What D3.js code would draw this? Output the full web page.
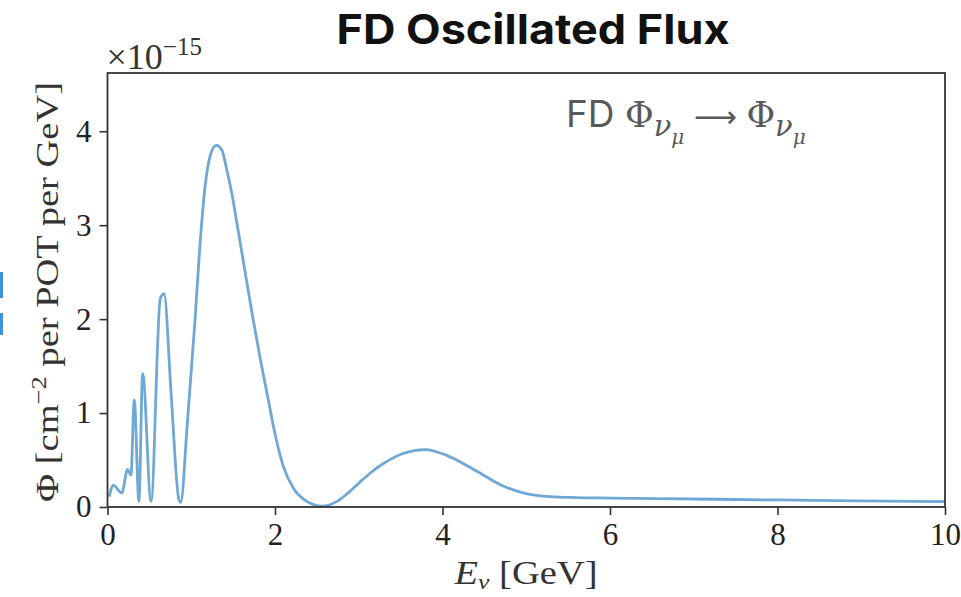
<!DOCTYPE html>
<html>
<head>
<meta charset="utf-8">
<script src="https://cdn.jsdelivr.net/npm/d3@7"></script>
<style>
  html, body { margin: 0; padding: 0; background: #fff; }
  svg { display: block; }
</style>
</head>
<body>
<svg id="chart" width="961" height="597"></svg>
<script>
// Far-detector oscillated numu flux (units of 1e-15 cm^-2 per POT per GeV)
const energy = [0.02, 0.07, 0.17, 0.24, 0.28, 0.32, 0.375, 0.42, 0.52, 0.63, 0.675, 0.76, 0.85, 0.875,
  0.95, 1.045, 1.097, 1.165, 1.233, 1.30, 1.365, 1.424, 1.484, 1.54, 1.64, 1.74, 1.83, 1.92, 2.0, 2.1,
  2.22, 2.38, 2.56, 2.74, 2.88, 3.02, 3.15, 3.29, 3.53, 3.79, 4.05, 4.41, 4.73, 5.01, 5.29, 5.6, 6.0, 7.0,
  8.0, 9.0, 10.0];
const flux = [0.11, 0.23, 0.15, 0.40, 0.34, 1.14, 0.06, 1.42, 0.06, 2.22, 2.27, 1.20, 0.09, 0.05,
  0.85, 1.99, 2.70, 3.41, 3.76, 3.85, 3.80, 3.59, 3.34, 3.05, 2.52, 1.99, 1.55, 1.14, 0.78, 0.43,
  0.20, 0.06, 0.01, 0.06, 0.155, 0.27, 0.37, 0.46, 0.57, 0.61, 0.55, 0.38, 0.22, 0.14, 0.11, 0.10, 0.095, 0.085,
  0.075, 0.065, 0.058];
const xTicks = [0, 2, 4, 6, 8, 10];
const yTicks = [0, 1, 2, 3, 4];
const xDomain = [0, 10];
const yDomain = [0, 4.62];

const svg = d3.select("#chart");
const margin = { left: 107.5, top: 73, right: 16, bottom: 90 };
const W = 961, H = 597;
const x = d3.scaleLinear().domain(xDomain).range([margin.left, W - margin.right]);
const y = d3.scaleLinear().domain(yDomain).range([H - margin.bottom, margin.top]);

const serif = "'Liberation Serif', 'DejaVu Serif', serif";
const mathSerif = "'DejaVu Serif', 'Liberation Serif', serif";
const sans = "Inter, 'Open Sans', 'Noto Sans', sans-serif";

// small slide accents on the left edge
svg.append("rect").attr("x", 0).attr("y", 272).attr("width", 3).attr("height", 26).attr("fill", "#3d8fe0");
svg.append("rect").attr("x", 0).attr("y", 313).attr("width", 3).attr("height", 22).attr("fill", "#3d8fe0");

// title
svg.append("text")
  .attr("x", 533).attr("y", 44)
  .attr("text-anchor", "middle")
  .attr("font-family", sans).attr("font-weight", 700)
  .attr("font-size", 41).attr("fill", "#111")
  .attr("textLength", 393).attr("lengthAdjust", "spacingAndGlyphs")
  .text("FD Oscillated Flux");

// axes
const xAxis = d3.axisBottom(x).tickValues(xTicks).tickSize(8).tickPadding(6).tickFormat(d3.format("d"));
const yAxis = d3.axisLeft(y).tickValues(yTicks).tickSize(8).tickPadding(8).tickFormat(d3.format("d"));

const gx = svg.append("g").attr("transform", `translate(0,${y(0)})`).call(xAxis);
const gy = svg.append("g").attr("transform", `translate(${x(0)},0)`).call(yAxis);
[gx, gy].forEach(g => {
  g.select(".domain").remove();
  g.selectAll(".tick line").attr("stroke", "#333").attr("stroke-width", 1.6);
  g.selectAll(".tick text").attr("font-family", serif).attr("font-size", 31).attr("fill", "#222");
});
gx.selectAll(".tick text").attr("dy", "0.78em");

// data line
const line = d3.line()
  .x((d, i) => x(energy[i]))
  .y(d => y(d))
  .curve(d3.curveMonotoneX);
svg.append("path")
  .datum(flux)
  .attr("d", line)
  .attr("fill", "none")
  .attr("stroke", "#6fa7d5")
  .attr("stroke-width", 2.8)
  .attr("stroke-linejoin", "round");

// frame
svg.append("rect")
  .attr("x", x(0)).attr("y", y(yDomain[1]))
  .attr("width", x(10) - x(0)).attr("height", y(0) - y(yDomain[1]))
  .attr("fill", "none").attr("stroke", "#333").attr("stroke-width", 1.8);

// offset multiplier
const mult = svg.append("text").attr("x", x(0) - 1).attr("y", 69)
  .attr("font-family", serif).attr("font-size", 36).attr("fill", "#333");
mult.append("tspan").text("×10");
mult.append("tspan").attr("font-size", 25).attr("dy", -14).text("−15");

// axis labels
const xl = svg.append("text").attr("x", 526).attr("y", 584)
  .attr("text-anchor", "middle").attr("font-family", serif).attr("font-size", 33).attr("fill", "#333")
  .attr("textLength", 143).attr("lengthAdjust", "spacingAndGlyphs");
xl.append("tspan").attr("font-style", "italic").text("E");
xl.append("tspan").attr("font-style", "italic").attr("font-size", 22).attr("dy", 5).text("ν");
xl.append("tspan").attr("dy", -5).text(" [GeV]");

const yl = svg.append("text")
  .attr("transform", `translate(58,${(y(0) + y(yDomain[1])) / 2 + 2}) rotate(-90)`)
  .attr("text-anchor", "middle").attr("font-family", serif).attr("font-size", 32).attr("fill", "#333")
  .attr("textLength", 420).attr("lengthAdjust", "spacingAndGlyphs");
yl.append("tspan").text("Φ [cm");
yl.append("tspan").attr("font-size", 22).attr("dy", -12).text("−2");
yl.append("tspan").attr("dy", 12).text(" per POT per GeV]");

// legend text
const lg = svg.append("text").attr("x", 566).attr("y", 127)
  .attr("font-size", 37).attr("fill", "#595959");
lg.append("tspan").attr("font-family", sans).text("FD ");
lg.append("tspan").attr("font-family", mathSerif).attr("font-size", 35).text("Φ");
lg.append("tspan").attr("font-family", mathSerif).attr("font-style", "italic").attr("font-size", 29).attr("dy", 9).text("ν");
lg.append("tspan").attr("font-family", mathSerif).attr("font-style", "italic").attr("font-size", 20).attr("dy", 8).text("μ");
lg.append("tspan").attr("font-family", "'DejaVu Sans', sans-serif").attr("font-size", 30).attr("dy", -17).text(" ⟶ ");
lg.append("tspan").attr("font-family", mathSerif).attr("font-size", 35).text("Φ");
lg.append("tspan").attr("font-family", mathSerif).attr("font-style", "italic").attr("font-size", 29).attr("dy", 9).text("ν");
lg.append("tspan").attr("font-family", mathSerif).attr("font-style", "italic").attr("font-size", 20).attr("dy", 8).text("μ");
</script>
</body>
</html>
